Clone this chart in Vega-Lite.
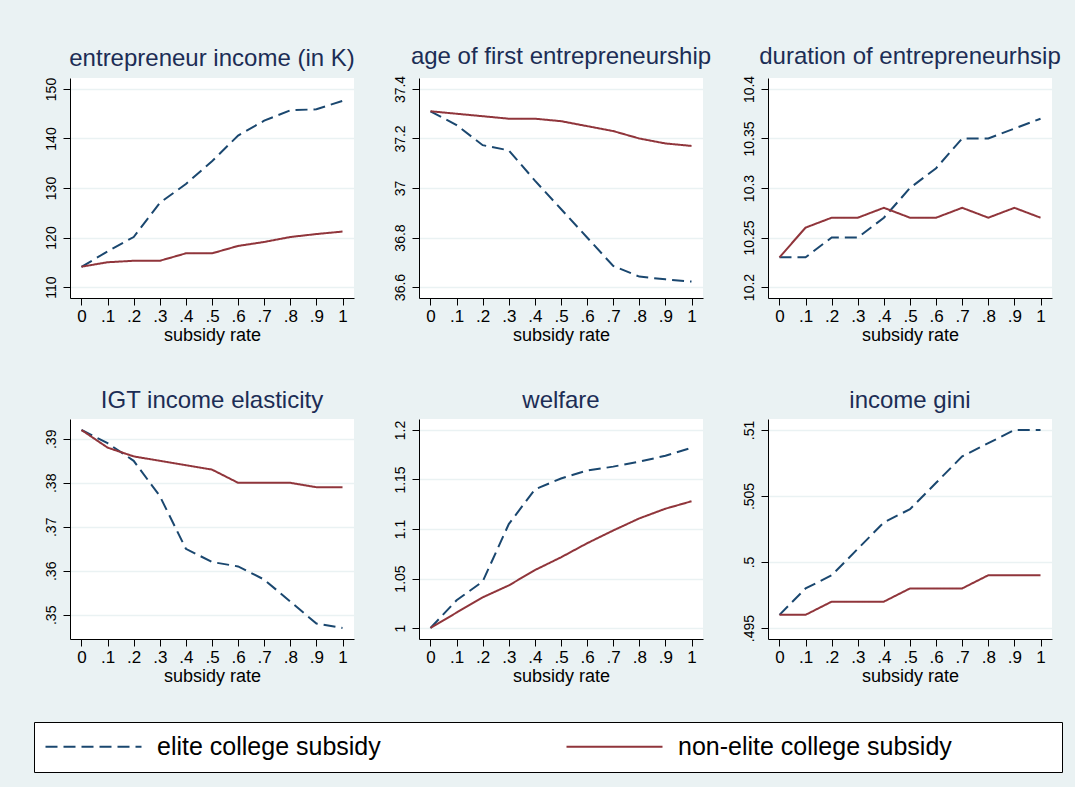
{
  "$schema": "https://vega.github.io/schema/vega-lite/v6.json",
  "padding": {"left": 33, "top": 45, "right": 12, "bottom": 14},
  "background": "#eaf2f3",
  "data": {"values": [
    {"p": "inc", "rate": 0, "elite college subsidy": 114.05, "non-elite college subsidy": 114.1},
    {"p": "inc", "rate": 0.1, "elite college subsidy": 117.2, "non-elite college subsidy": 115.0},
    {"p": "inc", "rate": 0.2, "elite college subsidy": 120.1, "non-elite college subsidy": 115.3},
    {"p": "inc", "rate": 0.3, "elite college subsidy": 127.0, "non-elite college subsidy": 115.3},
    {"p": "inc", "rate": 0.4, "elite college subsidy": 130.8, "non-elite college subsidy": 116.8},
    {"p": "inc", "rate": 0.5, "elite college subsidy": 135.4, "non-elite college subsidy": 116.8},
    {"p": "inc", "rate": 0.6, "elite college subsidy": 140.6, "non-elite college subsidy": 118.3},
    {"p": "inc", "rate": 0.7, "elite college subsidy": 143.6, "non-elite college subsidy": 119.1},
    {"p": "inc", "rate": 0.8, "elite college subsidy": 145.7, "non-elite college subsidy": 120.1},
    {"p": "inc", "rate": 0.9, "elite college subsidy": 145.9, "non-elite college subsidy": 120.7},
    {"p": "inc", "rate": 1, "elite college subsidy": 147.6, "non-elite college subsidy": 121.2},
    {"p": "age", "rate": 0, "elite college subsidy": 37.31, "non-elite college subsidy": 37.31},
    {"p": "age", "rate": 0.1, "elite college subsidy": 37.254, "non-elite college subsidy": 37.30},
    {"p": "age", "rate": 0.2, "elite college subsidy": 37.173, "non-elite college subsidy": 37.29},
    {"p": "age", "rate": 0.3, "elite college subsidy": 37.152, "non-elite college subsidy": 37.28},
    {"p": "age", "rate": 0.4, "elite college subsidy": 37.03, "non-elite college subsidy": 37.28},
    {"p": "age", "rate": 0.5, "elite college subsidy": 36.915, "non-elite college subsidy": 37.27},
    {"p": "age", "rate": 0.6, "elite college subsidy": 36.80, "non-elite college subsidy": 37.25},
    {"p": "age", "rate": 0.7, "elite college subsidy": 36.685, "non-elite college subsidy": 37.23},
    {"p": "age", "rate": 0.8, "elite college subsidy": 36.642, "non-elite college subsidy": 37.20},
    {"p": "age", "rate": 0.9, "elite college subsidy": 36.631, "non-elite college subsidy": 37.18},
    {"p": "age", "rate": 1, "elite college subsidy": 36.622, "non-elite college subsidy": 37.17},
    {"p": "dur", "rate": 0, "elite college subsidy": 10.23, "non-elite college subsidy": 10.23},
    {"p": "dur", "rate": 0.1, "elite college subsidy": 10.23, "non-elite college subsidy": 10.26},
    {"p": "dur", "rate": 0.2, "elite college subsidy": 10.25, "non-elite college subsidy": 10.27},
    {"p": "dur", "rate": 0.3, "elite college subsidy": 10.25, "non-elite college subsidy": 10.27},
    {"p": "dur", "rate": 0.4, "elite college subsidy": 10.27, "non-elite college subsidy": 10.28},
    {"p": "dur", "rate": 0.5, "elite college subsidy": 10.30, "non-elite college subsidy": 10.27},
    {"p": "dur", "rate": 0.6, "elite college subsidy": 10.32, "non-elite college subsidy": 10.27},
    {"p": "dur", "rate": 0.7, "elite college subsidy": 10.35, "non-elite college subsidy": 10.28},
    {"p": "dur", "rate": 0.8, "elite college subsidy": 10.35, "non-elite college subsidy": 10.27},
    {"p": "dur", "rate": 0.9, "elite college subsidy": 10.36, "non-elite college subsidy": 10.28},
    {"p": "dur", "rate": 1, "elite college subsidy": 10.37, "non-elite college subsidy": 10.27},
    {"p": "igt", "rate": 0, "elite college subsidy": 0.392, "non-elite college subsidy": 0.392},
    {"p": "igt", "rate": 0.1, "elite college subsidy": 0.389, "non-elite college subsidy": 0.388},
    {"p": "igt", "rate": 0.2, "elite college subsidy": 0.385, "non-elite college subsidy": 0.386},
    {"p": "igt", "rate": 0.3, "elite college subsidy": 0.377, "non-elite college subsidy": 0.385},
    {"p": "igt", "rate": 0.4, "elite college subsidy": 0.365, "non-elite college subsidy": 0.384},
    {"p": "igt", "rate": 0.5, "elite college subsidy": 0.362, "non-elite college subsidy": 0.383},
    {"p": "igt", "rate": 0.6, "elite college subsidy": 0.361, "non-elite college subsidy": 0.380},
    {"p": "igt", "rate": 0.7, "elite college subsidy": 0.358, "non-elite college subsidy": 0.380},
    {"p": "igt", "rate": 0.8, "elite college subsidy": 0.353, "non-elite college subsidy": 0.380},
    {"p": "igt", "rate": 0.9, "elite college subsidy": 0.348, "non-elite college subsidy": 0.379},
    {"p": "igt", "rate": 1, "elite college subsidy": 0.347, "non-elite college subsidy": 0.379},
    {"p": "wel", "rate": 0, "elite college subsidy": 1.0, "non-elite college subsidy": 1.0},
    {"p": "wel", "rate": 0.1, "elite college subsidy": 1.028, "non-elite college subsidy": 1.0156},
    {"p": "wel", "rate": 0.2, "elite college subsidy": 1.047, "non-elite college subsidy": 1.031},
    {"p": "wel", "rate": 0.3, "elite college subsidy": 1.105, "non-elite college subsidy": 1.043},
    {"p": "wel", "rate": 0.4, "elite college subsidy": 1.140, "non-elite college subsidy": 1.0585},
    {"p": "wel", "rate": 0.5, "elite college subsidy": 1.151, "non-elite college subsidy": 1.0714},
    {"p": "wel", "rate": 0.6, "elite college subsidy": 1.159, "non-elite college subsidy": 1.0856},
    {"p": "wel", "rate": 0.7, "elite college subsidy": 1.163, "non-elite college subsidy": 1.0985},
    {"p": "wel", "rate": 0.8, "elite college subsidy": 1.168, "non-elite college subsidy": 1.1107},
    {"p": "wel", "rate": 0.9, "elite college subsidy": 1.174, "non-elite college subsidy": 1.1205},
    {"p": "wel", "rate": 1, "elite college subsidy": 1.182, "non-elite college subsidy": 1.128},
    {"p": "gini", "rate": 0, "elite college subsidy": 0.496, "non-elite college subsidy": 0.496},
    {"p": "gini", "rate": 0.1, "elite college subsidy": 0.498, "non-elite college subsidy": 0.496},
    {"p": "gini", "rate": 0.2, "elite college subsidy": 0.499, "non-elite college subsidy": 0.497},
    {"p": "gini", "rate": 0.3, "elite college subsidy": 0.501, "non-elite college subsidy": 0.497},
    {"p": "gini", "rate": 0.4, "elite college subsidy": 0.503, "non-elite college subsidy": 0.497},
    {"p": "gini", "rate": 0.5, "elite college subsidy": 0.504, "non-elite college subsidy": 0.498},
    {"p": "gini", "rate": 0.6, "elite college subsidy": 0.506, "non-elite college subsidy": 0.498},
    {"p": "gini", "rate": 0.7, "elite college subsidy": 0.508, "non-elite college subsidy": 0.498},
    {"p": "gini", "rate": 0.8, "elite college subsidy": 0.509, "non-elite college subsidy": 0.499},
    {"p": "gini", "rate": 0.9, "elite college subsidy": 0.510, "non-elite college subsidy": 0.499},
    {"p": "gini", "rate": 1, "elite college subsidy": 0.510, "non-elite college subsidy": 0.499}
  ]},
  "transform": [{"fold": ["elite college subsidy", "non-elite college subsidy"], "as": ["series", "value"]}],
  "columns": 3,
  "bounds": "flush",
  "spacing": {"row": 121, "column": 65},
  "concat": [
    {
      "title": "entrepreneur income (in K)",
      "width": 284, "height": 220,
      "transform": [{"filter": "datum.p == 'inc'"}],
      "mark": {"type": "line", "strokeWidth": 2},
      "encoding": {
        "x": {"field": "rate", "type": "quantitative", "scale": {"domain": [-0.044, 1.044], "nice": false, "zero": false}, "axis": {"values": [0, 0.1, 0.2, 0.3, 0.4, 0.5, 0.6, 0.7, 0.8, 0.9, 1], "labelExpr": "datum.value == 0 ? '0' : datum.value == 1 ? '1' : replace(format(datum.value, '.1f'), '0.', '.')", "title": "subsidy rate"}},
        "y": {"field": "value", "type": "quantitative", "scale": {"domain": [107.78, 152.22], "nice": false, "zero": false}, "axis": {"values": [110, 120, 130, 140, 150], "format": "d", "title": null}},
        "color": {"field": "series", "type": "nominal", "scale": {"domain": ["elite college subsidy", "non-elite college subsidy"], "range": ["#1a476f", "#90353b"]}, "legend": {"title": null, "orient": "none", "legendX": -36, "legendY": 644, "direction": "horizontal", "labelExpr": "datum.label == 'non-elite college subsidy' ? datum.label + '\u00a0\u00a0\u00a0\u00a0\u00a0\u00a0\u00a0\u00a0\u00a0\u00a0\u00a0\u00a0\u00a0\u00a0\u200b' : datum.label"}},
        "strokeDash": {"field": "series", "type": "nominal", "scale": {"domain": ["elite college subsidy", "non-elite college subsidy"], "range": [[12, 6], [1, 0]]}, "legend": {"title": null, "orient": "none", "legendX": -36, "legendY": 644, "direction": "horizontal", "labelExpr": "datum.label == 'non-elite college subsidy' ? datum.label + '\u00a0\u00a0\u00a0\u00a0\u00a0\u00a0\u00a0\u00a0\u00a0\u00a0\u00a0\u00a0\u00a0\u00a0\u200b' : datum.label"}}
      }
    },
    {
      "title": "age of first entrepreneurship",
      "width": 284, "height": 220,
      "transform": [{"filter": "datum.p == 'age'"}],
      "mark": {"type": "line", "strokeWidth": 2},
      "encoding": {
        "x": {"field": "rate", "type": "quantitative", "scale": {"domain": [-0.044, 1.044], "nice": false, "zero": false}, "axis": {"values": [0, 0.1, 0.2, 0.3, 0.4, 0.5, 0.6, 0.7, 0.8, 0.9, 1], "labelExpr": "datum.value == 0 ? '0' : datum.value == 1 ? '1' : replace(format(datum.value, '.1f'), '0.', '.')", "title": "subsidy rate"}},
        "y": {"field": "value", "type": "quantitative", "scale": {"domain": [36.5556, 37.4444], "nice": false, "zero": false}, "axis": {"values": [36.6, 36.8, 37, 37.2, 37.4], "format": "~g", "title": null}},
        "color": {"field": "series", "type": "nominal"},
        "strokeDash": {"field": "series", "type": "nominal"}
      }
    },
    {
      "title": "duration of entrepreneurhsip",
      "width": 284, "height": 220,
      "transform": [{"filter": "datum.p == 'dur'"}],
      "mark": {"type": "line", "strokeWidth": 2},
      "encoding": {
        "x": {"field": "rate", "type": "quantitative", "scale": {"domain": [-0.044, 1.044], "nice": false, "zero": false}, "axis": {"values": [0, 0.1, 0.2, 0.3, 0.4, 0.5, 0.6, 0.7, 0.8, 0.9, 1], "labelExpr": "datum.value == 0 ? '0' : datum.value == 1 ? '1' : replace(format(datum.value, '.1f'), '0.', '.')", "title": "subsidy rate"}},
        "y": {"field": "value", "type": "quantitative", "scale": {"domain": [10.1889, 10.4111], "nice": false, "zero": false}, "axis": {"values": [10.2, 10.25, 10.3, 10.35, 10.4], "format": "~g", "title": null}},
        "color": {"field": "series", "type": "nominal"},
        "strokeDash": {"field": "series", "type": "nominal"}
      }
    },
    {
      "title": "IGT income elasticity",
      "width": 284, "height": 220,
      "transform": [{"filter": "datum.p == 'igt'"}],
      "mark": {"type": "line", "strokeWidth": 2},
      "encoding": {
        "x": {"field": "rate", "type": "quantitative", "scale": {"domain": [-0.044, 1.044], "nice": false, "zero": false}, "axis": {"values": [0, 0.1, 0.2, 0.3, 0.4, 0.5, 0.6, 0.7, 0.8, 0.9, 1], "labelExpr": "datum.value == 0 ? '0' : datum.value == 1 ? '1' : replace(format(datum.value, '.1f'), '0.', '.')", "title": "subsidy rate"}},
        "y": {"field": "value", "type": "quantitative", "scale": {"domain": [0.3445, 0.3945], "nice": false, "zero": false}, "axis": {"values": [0.35, 0.36, 0.37, 0.38, 0.39], "labelExpr": "replace(format(datum.value, '~g'), '0.', '.')", "title": null}},
        "color": {"field": "series", "type": "nominal"},
        "strokeDash": {"field": "series", "type": "nominal"}
      }
    },
    {
      "title": "welfare",
      "width": 284, "height": 220,
      "transform": [{"filter": "datum.p == 'wel'"}],
      "mark": {"type": "line", "strokeWidth": 2},
      "encoding": {
        "x": {"field": "rate", "type": "quantitative", "scale": {"domain": [-0.044, 1.044], "nice": false, "zero": false}, "axis": {"values": [0, 0.1, 0.2, 0.3, 0.4, 0.5, 0.6, 0.7, 0.8, 0.9, 1], "labelExpr": "datum.value == 0 ? '0' : datum.value == 1 ? '1' : replace(format(datum.value, '.1f'), '0.', '.')", "title": "subsidy rate"}},
        "y": {"field": "value", "type": "quantitative", "scale": {"domain": [0.9889, 1.2111], "nice": false, "zero": false}, "axis": {"values": [1, 1.05, 1.1, 1.15, 1.2], "format": "~g", "title": null}},
        "color": {"field": "series", "type": "nominal"},
        "strokeDash": {"field": "series", "type": "nominal"}
      }
    },
    {
      "title": "income gini",
      "width": 284, "height": 220,
      "transform": [{"filter": "datum.p == 'gini'"}],
      "mark": {"type": "line", "strokeWidth": 2},
      "encoding": {
        "x": {"field": "rate", "type": "quantitative", "scale": {"domain": [-0.044, 1.044], "nice": false, "zero": false}, "axis": {"values": [0, 0.1, 0.2, 0.3, 0.4, 0.5, 0.6, 0.7, 0.8, 0.9, 1], "labelExpr": "datum.value == 0 ? '0' : datum.value == 1 ? '1' : replace(format(datum.value, '.1f'), '0.', '.')", "title": "subsidy rate"}},
        "y": {"field": "value", "type": "quantitative", "scale": {"domain": [0.49417, 0.51083], "nice": false, "zero": false}, "axis": {"values": [0.495, 0.5, 0.505, 0.51], "labelExpr": "replace(format(datum.value, '~g'), '0.', '.')", "title": null}},
        "color": {"field": "series", "type": "nominal"},
        "strokeDash": {"field": "series", "type": "nominal"}
      }
    }
  ],
  "config": {
    "font": "Liberation Sans",
    "view": {"fill": "white", "stroke": null},
    "title": {"fontSize": 24, "font": "Liberation Sans", "fontWeight": "normal", "color": "#1c2d55", "offset": 6, "frame": "group", "anchor": "middle", "baseline": "alphabetic"},
    "axis": {"domainColor": "#000000", "domainWidth": 1, "tickColor": "#000000", "tickWidth": 1, "tickSize": 7, "labelColor": "#000000", "titleColor": "#000000", "gridColor": "#eaf2f3", "gridWidth": 1.5, "labelFont": "Liberation Sans", "titleFont": "Liberation Sans"},
    "axisX": {"grid": false, "labelFontSize": 17, "labelPadding": 3, "titleFontSize": 18, "titleFontWeight": "normal", "titlePadding": 2},
    "axisY": {"grid": true, "labelAngle": -90, "labelAlign": "center", "labelBaseline": "alphabetic", "labelFontSize": 14, "labelPadding": 8},
    "legend": {"fillColor": "white", "strokeColor": "#000000", "padding": 12, "symbolType": "M-2.6,0H16.6", "symbolSize": 100, "symbolStrokeWidth": 2, "labelFontSize": 25, "labelFont": "Liberation Sans", "labelColor": "#000000", "labelOffset": 86, "labelLimit": 900, "columnPadding": 181}
  }
}
